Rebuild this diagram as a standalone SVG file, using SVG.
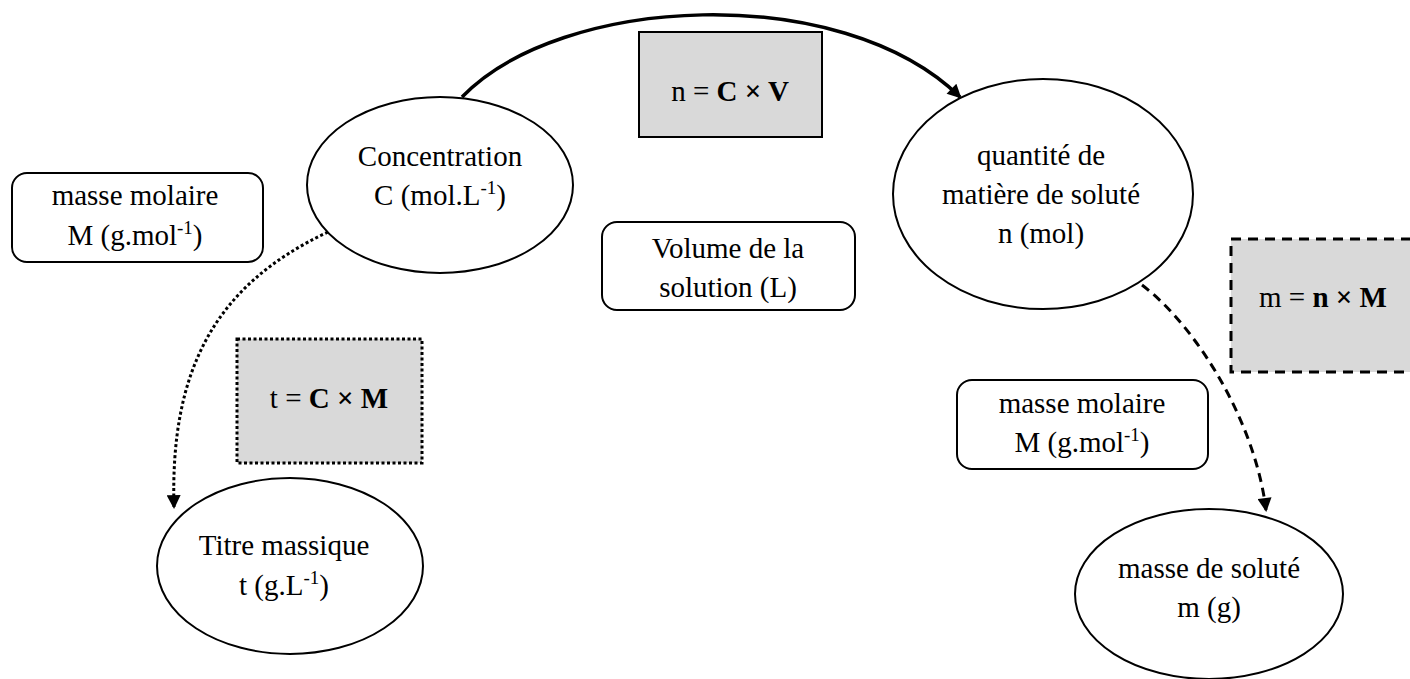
<svg xmlns="http://www.w3.org/2000/svg" width="1410" height="679" viewBox="0 0 1410 679">
<style>
text{font-family:"Liberation Serif","Times New Roman",serif;font-size:29px;fill:#000;text-anchor:middle}
.b{font-weight:bold}
.node{fill:#fff;stroke:#000;stroke-width:2}
.gray{fill:#d9d9d9;stroke:#000}
.conn{fill:none;stroke:#000}
</style>
<defs>
<marker id="ah" viewBox="0 0 10 10" refX="8.5" refY="5" markerWidth="17" markerHeight="14" markerUnits="userSpaceOnUse" orient="auto">
<path d="M0,0 L10,5 L0,10 z" fill="#000"/>
</marker>
</defs>
<rect width="1410" height="679" fill="#fff"/>

<g id="connectors">
<path class="conn" d="M462,97 C560,-5 840,-20 960,97" stroke-width="3.5" marker-end="url(#ah)"/>
<path class="conn" d="M328,232 C215,285 170,370 174,507" stroke-width="3" stroke-dasharray="3 2.5" marker-end="url(#ah)"/>
<path class="conn" d="M1142,285 C1195,325 1255,420 1266,510" stroke-width="3" stroke-dasharray="9 6" marker-end="url(#ah)"/>
</g>

<g id="concentration">
<ellipse class="node" cx="440" cy="185" rx="133" ry="88"/>
<text x="440" y="166">Concentration</text>
<text x="440" y="205">C (mol.L<tspan dy="-11" font-size="19">-1</tspan><tspan dy="11">)</tspan></text>
</g>

<g id="quantite">
<ellipse class="node" cx="1043" cy="194" rx="150" ry="115"/>
<text x="1041" y="165">quantité de</text>
<text x="1041" y="204">matière de soluté</text>
<text x="1041" y="243">n (mol)</text>
</g>

<g id="titre">
<ellipse class="node" cx="290" cy="566" rx="133" ry="88"/>
<text x="284" y="555">Titre massique</text>
<text x="284" y="595">t (g.L<tspan dy="-11" font-size="19">-1</tspan><tspan dy="11">)</tspan></text>
</g>

<g id="masse-solute">
<ellipse class="node" cx="1209" cy="594" rx="134" ry="85"/>
<text x="1209" y="578">masse de soluté</text>
<text x="1209" y="617">m (g)</text>
</g>

<g id="masse-molaire-1">
<rect class="node" x="12" y="173" width="251" height="89" rx="15"/>
<text x="135" y="205">masse molaire</text>
<text x="135" y="245">M (g.mol<tspan dy="-11" font-size="19">-1</tspan><tspan dy="11">)</tspan></text>
</g>

<g id="volume">
<rect class="node" x="602" y="222" width="253" height="88" rx="15"/>
<text x="728" y="258">Volume de la</text>
<text x="728" y="297">solution (L)</text>
</g>

<g id="masse-molaire-2">
<rect class="node" x="957" y="380" width="251" height="89" rx="15"/>
<text x="1082" y="413">masse molaire</text>
<text x="1082" y="452">M (g.mol<tspan dy="-11" font-size="19">-1</tspan><tspan dy="11">)</tspan></text>
</g>

<g id="formule-n">
<rect class="gray" x="639" y="32" width="183" height="105" stroke-width="2"/>
<text x="730" y="101">n = <tspan class="b">C × V</tspan></text>
</g>

<g id="formule-t">
<rect class="gray" x="237" y="339" width="185" height="124" stroke-width="3" stroke-dasharray="3 2.5"/>
<text x="329" y="408">t = <tspan class="b">C × M</tspan></text>
</g>

<g id="formule-m">
<rect class="gray" x="1231" y="239" width="190" height="133" stroke-width="3" stroke-dasharray="10 7"/>
<text x="1323" y="307">m = <tspan class="b">n × M</tspan></text>
</g>
</svg>
